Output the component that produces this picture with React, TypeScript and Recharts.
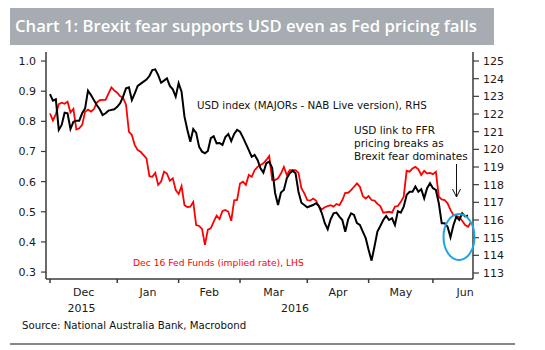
import { LineChart, Line, XAxis, YAxis } from 'recharts'

// business-day index, 0 = 1 Dec 2015
const usdDays = [
  0, 1, 2, 3, 4, 5, 6, 7, 8, 9, 10, 11, 12, 13, 14, 15, 16, 17, 18, 19, 20, 22, 23, 24, 25, 26, 27, 28, 29, 30,
  32, 33, 34, 35, 36, 37, 38, 39, 40, 41, 42, 43, 44, 45, 46, 47, 48, 49, 50, 51, 52, 53, 54, 55, 56, 57, 58, 59, 60,
  61, 62, 63, 64, 65, 66, 68, 69, 70, 71, 72, 73, 74, 75, 76, 77, 78, 79, 80, 81, 82, 83, 84, 85, 86, 87, 88, 90,
  91, 92, 93, 94, 95, 96, 97, 98, 99, 100, 101, 102, 103, 104, 105, 106, 107, 108, 109, 110, 111, 112, 113, 114,
  115, 116, 117, 118, 119, 120, 121, 122, 123, 124, 125, 126, 127, 128, 129, 130, 131, 132, 133, 134, 135, 136,
  137, 138, 139, 140, 141, 142, 143,
]
const usdIndex = [
  123.13, 122.75, 122.83, 121.1, 121.38, 122.07, 122.04, 121.15, 121.56, 121.62, 121.62, 122.04, 122.32, 123.32,
  123.08, 122.79, 122.51, 122.27, 121.94, 122.04, 122.19, 122.27, 122.41, 122.61, 122.98, 123.45, 123.51, 122.79,
  123.17, 123.59, 123.83, 123.95, 124.15, 124.49, 124.53, 124.2, 123.77, 123.89, 124.02, 123.59, 123.4, 122.98,
  123.74, 123.26, 121.85, 121.1, 120.43, 121.15, 120.93, 120.15, 119.87, 119.78, 119.91, 120.63, 120.74, 120.34,
  120.36, 120.25, 120.7, 120.87, 120.47, 120.87, 121.1, 121.0, 120.68, 119.96, 119.58, 119.68, 119.4, 118.93,
  118.68, 119.21, 119.3, 118.94, 117.53, 116.85, 117.55, 117.7, 118.36, 118.64, 118.79, 118.64, 117.6, 116.98,
  116.85, 116.72, 116.85, 116.95, 116.79, 116.38, 115.82, 115.48, 116.04, 116.38, 116.42, 116.19, 116.0, 115.34,
  116.04, 116.38, 116.29, 115.82, 115.72, 115.34, 114.97, 114.3, 113.7, 114.5, 115.34, 115.66, 116.0, 116.23,
  116.0, 116.1, 115.72, 116.5, 116.42, 116.75, 117.42, 117.6, 117.6, 117.89, 117.6, 117.74, 117.23, 117.8,
  118.08, 117.8, 117.7, 116.95, 115.82, 115.82, 115.62, 115.02, 115.7, 116.19, 116.0, 116.38, 116.2, 116.25,
]

const ffrDays = [
  0, 1, 2, 3, 4, 5, 6, 7, 8, 9, 10, 11, 12, 13, 14, 15, 16, 17, 18, 19, 21, 22, 23, 24, 25, 26, 27, 28, 29, 30,
  31, 33, 34, 35, 36, 37, 38, 39, 40, 41, 42, 43, 44, 45, 46, 47, 48, 49, 50, 51, 52, 53, 54, 55, 56, 57, 58, 59,
  60, 61, 62, 63, 64, 65, 66, 67, 68, 69, 70, 71, 72, 73, 74, 75, 76, 77, 78, 79, 80, 81, 82, 84, 85, 86, 87, 88,
  89, 90, 91, 92, 93, 94, 95, 96, 97, 98, 99, 100, 101, 102, 103, 104, 105, 106, 107, 108, 109, 110, 111, 112,
  113, 114, 116, 117, 118, 119, 120, 121, 122, 123, 124, 125, 126, 127, 128, 129, 130, 131, 132, 133, 134, 135,
  136, 137, 138, 139, 140, 141, 142, 143, 144,
]
const fedFunds = [
  0.826, 0.803, 0.824, 0.857, 0.862, 0.858, 0.865, 0.829, 0.841, 0.773, 0.777, 0.788, 0.832, 0.839, 0.832, 0.84,
  0.862, 0.87, 0.871, 0.871, 0.913, 0.902, 0.895, 0.883, 0.878, 0.855, 0.765, 0.755, 0.721, 0.705, 0.699, 0.677,
  0.618, 0.616, 0.629, 0.589, 0.6, 0.633, 0.627, 0.603, 0.611, 0.572, 0.559, 0.585, 0.522, 0.516, 0.517, 0.533,
  0.456, 0.453, 0.443, 0.39, 0.441, 0.445, 0.467, 0.487, 0.476, 0.503, 0.506, 0.5, 0.47, 0.538, 0.539, 0.594,
  0.6, 0.589, 0.622, 0.616, 0.638, 0.649, 0.655, 0.661, 0.672, 0.685, 0.605, 0.605, 0.611, 0.627, 0.649, 0.622,
  0.638, 0.638, 0.629, 0.578, 0.561, 0.539, 0.537, 0.544, 0.537, 0.517, 0.508, 0.515, 0.519, 0.522, 0.517, 0.526,
  0.522, 0.539, 0.563, 0.563, 0.572, 0.583, 0.594, 0.583, 0.552, 0.544, 0.552, 0.539, 0.537, 0.526, 0.519, 0.497,
  0.5, 0.497, 0.517, 0.519, 0.533, 0.55, 0.636, 0.633, 0.644, 0.649, 0.641, 0.622, 0.636, 0.627, 0.629, 0.625,
  0.633, 0.55, 0.541, 0.539, 0.528, 0.506, 0.489, 0.486, 0.483, 0.47, 0.456, 0.45, 0.465,
]

const monthStarts = [0, 23, 44, 65, 88, 109, 131, 153]
const monthNames = ['Dec', 'Jan', 'Feb', 'Mar', 'Apr', 'May', 'Jun']
const X_MIN = -1.37
const X_MAX = 144.7
const years = [
  { label: '2015', at: (X_MIN + 23) / 2 },
  { label: '2016', at: (23 + X_MAX) / 2 },
]

const leftTicks = [0.3, 0.4, 0.5, 0.6, 0.7, 0.8, 0.9, 1.0]
const rightTicks = [113, 114, 115, 116, 117, 118, 119, 120, 121, 122, 123, 124, 125]

const noteLines = ['USD link to FFR', 'pricing breaks as', 'Brexit fear dominates']

const usdData = usdDays.map((d, i) => ({ day: d, usd: usdIndex[i] }))
const ffrData = ffrDays.map((d, i) => ({ day: d, ffr: fedFunds[i] }))

const monthMids = monthNames.map((_, i) => (monthStarts[i] + monthStarts[i + 1]) / 2)
const xTicks = [...monthStarts.slice(0, 7), ...monthMids, ...years.map((y) => y.at)]

const AXIS = '#3a3a3a'
const FONT = '"DejaVu Sans", Verdana, sans-serif'

function XTick({ x, y, payload }: any) {
  const v = payload.value
  if (monthStarts.includes(v)) {
    return <line x1={x} x2={x} y1={y} y2={y + 4} stroke={AXIS} strokeWidth={1.5} />
  }
  const mi = monthMids.indexOf(v)
  if (mi >= 0) {
    return (
      <text x={x} y={y + 17} textAnchor="middle" fontFamily={FONT} fontSize={11} fill="#1a1a1a">
        {monthNames[mi]}
      </text>
    )
  }
  const yr = years.find((o) => o.at === v)
  return (
    <text x={x} y={y + 33} textAnchor="middle" fontFamily={FONT} fontSize={11} fill="#1a1a1a">
      {yr ? yr.label : ''}
    </text>
  )
}

export default function App() {
  return (
    <div style={{ position: 'absolute', left: 0, top: 0, width: 545, height: 350, background: '#fff' }}>
      <LineChart width={545} height={350} margin={{ top: 52, right: 27, bottom: 31, left: 6 }}>
        <XAxis
          dataKey="day"
          type="number"
          domain={[X_MIN, X_MAX]}
          ticks={xTicks}
          interval={0}
          tick={<XTick />}
          tickLine={false}
          tickSize={0}
          tickMargin={0}
          height={40}
          axisLine={{ stroke: AXIS, strokeWidth: 1.5 }}
          allowDataOverflow
        />
        <YAxis
          yAxisId="left"
          domain={[0.277, 1.03]}
          ticks={leftTicks}
          interval={0}
          tickFormatter={(v: number) => v.toFixed(1)}
          tick={{ fill: '#1a1a1a', fontSize: 11, fontFamily: FONT }}
          tickLine={{ stroke: AXIS, strokeWidth: 1.2 }}
          tickSize={5}
          tickMargin={5}
          axisLine={{ stroke: AXIS, strokeWidth: 1.5 }}
          width={40}
          allowDataOverflow
        />
        <YAxis
          yAxisId="right"
          orientation="right"
          domain={[112.66, 125.51]}
          ticks={rightTicks}
          interval={0}
          tick={{ fill: '#1a1a1a', fontSize: 11, fontFamily: FONT }}
          tickLine={{ stroke: AXIS, strokeWidth: 1.2 }}
          tickSize={6}
          tickMargin={4}
          axisLine={{ stroke: AXIS, strokeWidth: 1.5 }}
          width={45}
          allowDataOverflow
        />
        <Line
          yAxisId="left"
          data={ffrData}
          dataKey="ffr"
          type="linear"
          stroke="#ff0000"
          strokeWidth={1.8}
          dot={false}
          isAnimationActive={false}
        />
        <Line
          yAxisId="right"
          data={usdData}
          dataKey="usd"
          type="linear"
          stroke="#000000"
          strokeWidth={2}
          dot={false}
          isAnimationActive={false}
        />
      </LineChart>
      <svg width={545} height={350} style={{ position: 'absolute', left: 0, top: 0, pointerEvents: 'none' }}>
        <rect x={10} y={8} width={484} height={37} fill="#a6acb1" />
        <text x={15} y={32} fill="#fff" fontFamily='"Open Sans", sans-serif' fontWeight={600} fontSize={16.7}>
          Chart 1: Brexit fear supports USD even as Fed pricing falls
        </text>
        <text x={197} y={109} fill="#111" fontFamily={FONT} fontSize={10.3}>
          USD index (MAJORs - NAB Live version), RHS
        </text>
        <text x={133} y={266} fill="#ff0000" fontFamily={FONT} fontSize={9.2}>
          Dec 16 Fed Funds (implied rate), LHS
        </text>
        {noteLines.map((t, i) => (
          <text key={t} x={354} y={134 + i * 12.8} fontFamily={FONT} fontSize={10.5} fill="#111">
            {t}
          </text>
        ))}
        <line x1={456.5} x2={456.5} y1={164} y2={197} stroke="#111" strokeWidth={1} />
        <polyline points="452.5,189 456.5,197 460.5,189" fill="none" stroke="#111" strokeWidth={1} />
        <ellipse cx={459} cy={237} rx={15.5} ry={23} fill="none" stroke="#1ca6e0" strokeWidth={2} />
        <text x={22} y={329} fill="#111" fontFamily={FONT} fontSize={10.2}>
          Source: National Australia Bank, Macrobond
        </text>
        <line x1={10} x2={515} y1={344} y2={344} stroke="#111" strokeWidth={1} />
      </svg>
    </div>
  )
}
